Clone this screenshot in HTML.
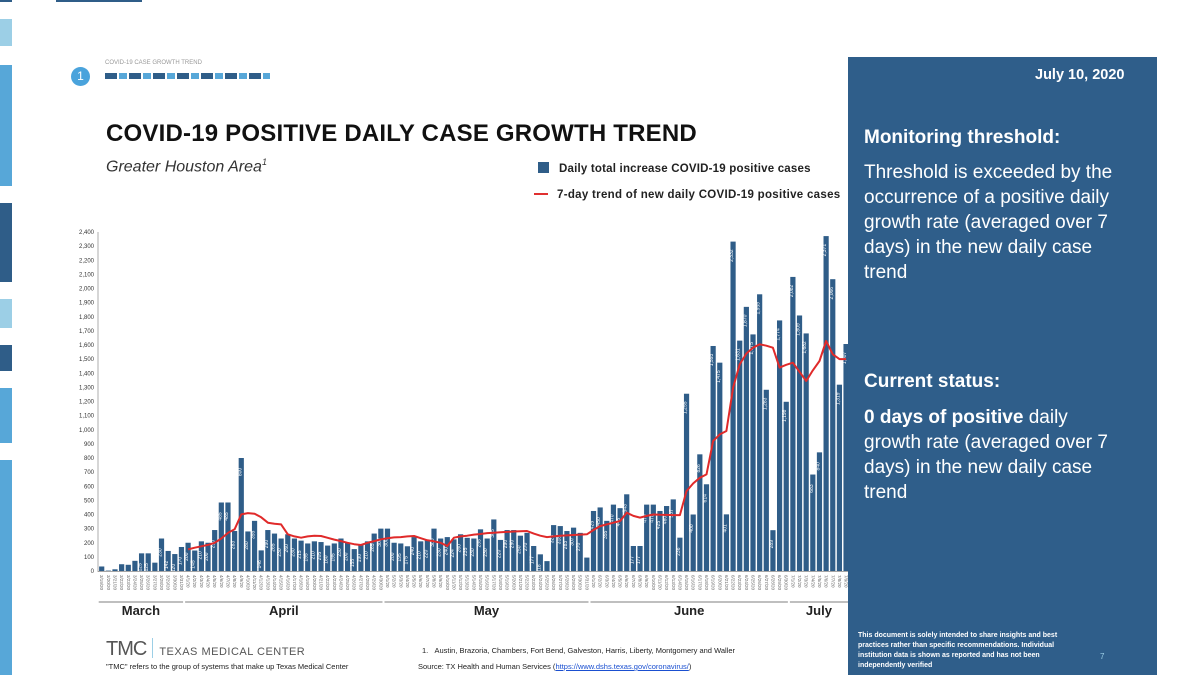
<!DOCTYPE html>
<html><head><meta charset="utf-8">
<style>
body{margin:0;width:1200px;height:675px;background:#fff;overflow:hidden;position:relative;font-family:"Liberation Sans",sans-serif;}
.strip{position:absolute;left:0;width:12px;}
.abs{position:absolute;}
.panel{position:absolute;left:848px;top:57px;width:309px;height:618px;background:#2f5e8a;color:#fff;}
.panel .t{position:absolute;left:16px;font-size:19px;line-height:25px;}
</style></head><body>
<div class="strip" style="top:0;height:2px;background:#2f5d88"></div>
<div class="strip" style="top:19px;height:27px;background:#9ccfe6"></div>
<div class="strip" style="top:65px;height:121px;background:#57a7d8"></div>
<div class="strip" style="top:203px;height:79px;background:#2f5d88"></div>
<div class="strip" style="top:299px;height:29px;background:#9ccfe6"></div>
<div class="strip" style="top:345px;height:26px;background:#2f5d88"></div>
<div class="strip" style="top:388px;height:55px;background:#57a7d8"></div>
<div class="strip" style="top:460px;height:215px;background:#57a7d8"></div>
<div class="abs" style="left:56px;top:0;width:86px;height:2px;background:#2f5d88"></div>

<div class="abs" style="left:71px;top:67px;width:19px;height:19px;border-radius:50%;background:#4aa3dc;color:#fff;font-size:12px;text-align:center;line-height:19px">1</div>
<div class="abs" style="left:105px;top:60px;font-size:6px;color:#999">COVID-19 CASE GROWTH TREND</div>
<div class="abs" style="left:105px;top:73px;width:165px;height:6px;background:repeating-linear-gradient(90deg,#2f5d88 0 12px,#fff 12px 14px,#57a7d8 14px 22px,#fff 22px 24px)"></div>

<div class="abs" style="left:106px;top:120px;font-size:24px;font-weight:bold;color:#111;letter-spacing:0.2px">COVID-19 POSITIVE DAILY CASE GROWTH TREND</div>
<div class="abs" style="left:106px;top:157px;font-size:16px;font-style:italic;color:#333">Greater Houston Area<sup style="font-size:9px">1</sup></div>

<div class="abs" style="left:538px;top:162px;font-size:11.5px;font-weight:bold;color:#222;letter-spacing:0.2px"><span style="display:inline-block;width:11px;height:11px;background:#2f5d88;vertical-align:-1px;margin-right:10px"></span>Daily total increase COVID-19 positive cases</div>
<div class="abs" style="left:534px;top:189px;font-size:11.5px;font-weight:bold;color:#222;letter-spacing:0.3px"><span style="display:inline-block;width:14px;height:2px;background:#e03030;vertical-align:3px;margin-right:9px"></span>7-day trend of new daily COVID-19 positive cases</div>

<svg class="abs" style="left:0;top:0" width="848" height="675">
<g id="g"></g>
</svg>

<div class="abs" style="left:106px;top:638px;font-size:20px;color:#555;letter-spacing:-1px">TMC<span style="display:inline-block;width:1px;height:20px;background:#9ccfe6;margin:0 6px;vertical-align:-3px"></span><span style="font-size:11px;letter-spacing:0.5px">TEXAS MEDICAL CENTER</span></div>
<div class="abs" style="left:106px;top:662px;font-size:7.5px;color:#222">"TMC" refers to the group of systems that make up Texas Medical Center</div>
<div class="abs" style="left:422px;top:646px;font-size:7.5px;color:#222">1.&nbsp;&nbsp;&nbsp;Austin, Brazoria, Chambers, Fort Bend, Galveston, Harris, Liberty, Montgomery and Waller</div>
<div class="abs" style="left:418px;top:662px;font-size:7.5px;color:#222">Source: TX Health and Human Services (<span style="color:#1a4fd0;text-decoration:underline">https://www.dshs.texas.gov/coronavirus/</span>)</div>

<div class="panel">
<div class="t" style="top:6px;left:187px;font-size:14.5px;font-weight:bold">July 10, 2020</div>
<div class="t" style="top:68px;font-weight:bold">Monitoring threshold:</div>
<div class="t" style="top:103px;width:275px">Threshold is exceeded by the occurrence of a positive daily growth rate (averaged over 7 days) in the new daily case trend</div>
<div class="t" style="top:312px;font-weight:bold">Current status:</div>
<div class="t" style="top:348px;width:262px"><b>0 days of positive</b> daily growth rate (averaged over 7 days) in the new daily case trend</div>
<div class="t" style="top:574px;left:10px;width:220px;font-size:7px;line-height:10px;font-weight:bold">This document is solely intended to share insights and best practices rather than specific recommendations. Individual institution data is shown as reported and has not been independently verified</div>
<div class="t" style="top:587px;left:252px;font-size:8px;color:#9ccfe6">7</div>
</div>

<script>
const dailyCases=[32,3,12,48,44,72,125,125,59,230,142,120,170,200,145,210,200,290,485,485,283,800,280,355,146,290,265,230,260,230,215,195,210,205,180,195,230,200,155,190,210,265,300,300,200,195,175,240,210,220,300,230,240,224,260,235,230,295,230,365,220,290,290,250,270,177,118,70,325,318,283,307,270,95,425,450,355,470,445,543,177,177,470,470,425,460,507,236,1255,400,826,614,1593,1475,401,2332,1631,1870,1675,1959,1283,289,1774,1198,2082,1809,1682,683,840,2371,2066,1319,1607];
const trendStart=13;
const trend7day=[153,165,175,185,200,230,270,295,401,410,406,380,342,335,330,260,245,236,245,250,248,235,222,212,200,190,184,200,212,224,232,238,240,245,248,232,217,210,200,177,236,245,250,258,262,268,271,274,277,280,282,283,265,250,240,245,250,252,255,258,260,290,318,330,342,354,413,390,378,390,400,398,397,396,396,566,620,660,684,920,967,991,1298,1463,1540,1581,1605,1595,1581,1440,1460,1475,1410,1345,1420,1487,1628,1534,1500,1500];
const yTicks=[0,100,200,300,400,500,600,700,800,900,1000,1100,1200,1300,1400,1500,1600,1700,1800,1900,2000,2100,2200,2300,2400];
const months=["March","April","May","June","July"];
const monthStartIdx=[0,13,43,74,104];
const startDate=new Date(2020,2,19);

const NS="http://www.w3.org/2000/svg";
const g=document.getElementById('g');
const x0=101.7,pitch=6.646,bw=5.2;
const y=v=>571-v*(339/2400);
const x=i=>x0+i*pitch;
function mk(t,a){const e=document.createElementNS(NS,t);for(const k in a)e.setAttribute(k,a[k]);g.appendChild(e);return e;}

yTicks.forEach(v=>{const t=mk('text',{x:94,y:y(v)+2,'font-size':6,'text-anchor':'end',fill:'#333','font-family':'Liberation Sans'});


t.textContent=v.toLocaleString('en-US');});
const ax=mk('line',{x1:98,x2:98,y1:232,y2:572,stroke:'#999','stroke-width':0.8});



dailyCases.forEach((v,i)=>{const r=mk('rect',{x:x(i)-bw/2,y:y(v),width:bw,height:571-y(v),fill:'#2f5d88'});


if(v>=100){const cx=x(i),cy=y(v)+14;const t=mk('text',{x:cx,y:cy,'font-size':5,fill:'#fff','text-anchor':'middle',transform:`rotate(-90 ${cx} ${cy})`,'font-family':'Liberation Sans'});


t.textContent=v.toLocaleString('en-US');}
const d=new Date(startDate);d.setDate(d.getDate()+i);
const lx=x(i)-1.5,ly=575;const dt=mk('text',{x:lx,y:ly,'font-size':4.5,fill:'#666','text-anchor':'start',transform:`rotate(90 ${lx} ${ly})`,'font-family':'Liberation Sans'});


dt.textContent=(d.getMonth()+1)+'/'+d.getDate()+'/20';
});
const base=mk('line',{x1:98,x2:848,y1:571.5,y2:571.5,stroke:'#888','stroke-width':0.8});



let p='';trend7day.forEach((v,k)=>{p+=(k?'L':'M')+x(k+trendStart).toFixed(1)+','+y(v).toFixed(1);});
const ln=mk('path',{d:p,fill:'none',stroke:'#e02a2a','stroke-width':2,'stroke-linejoin':'round'});



months.forEach((m,k)=>{const a=x(monthStartIdx[k])-3,b=k<months.length-1?x(monthStartIdx[k+1])-5:848;
const l=mk('line',{x1:a,x2:b,y1:602,y2:602,stroke:'#aaa','stroke-width':1.5});


const t=mk('text',{x:(a+b)/2,y:615,'font-size':13,'font-weight':'bold','text-anchor':'middle',fill:'#222','font-family':'Liberation Sans'});


t.textContent=m;});
</script>
</body></html>
